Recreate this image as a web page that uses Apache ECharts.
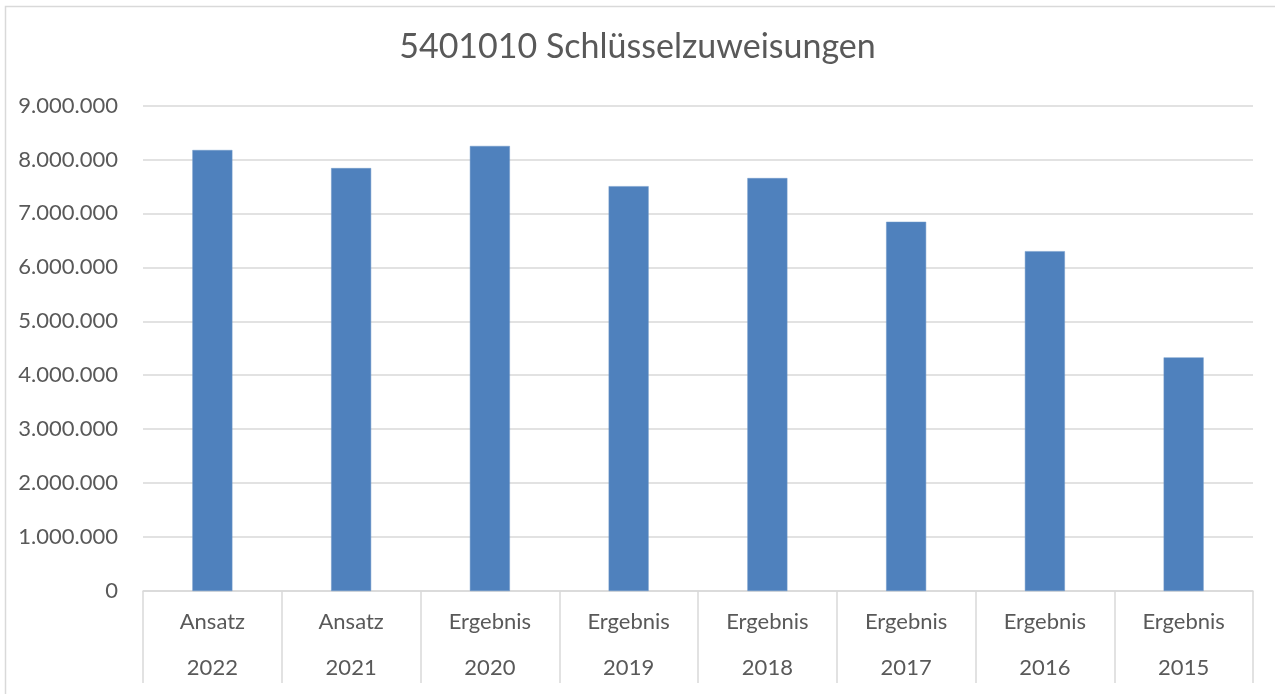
<!DOCTYPE html>
<html>
<head>
<meta charset="utf-8">
<script src="https://cdn.jsdelivr.net/npm/echarts@6/dist/echarts.min.js"></script>
<style>
html,body{margin:0;padding:0;background:#fff;}
#c{width:1275px;height:694px;}
</style>
</head>
<body>
<div id="c"></div>
<script>
const titleText = "5401010 Schlüsselzuweisungen";
const types = ["Ansatz","Ansatz","Ergebnis","Ergebnis","Ergebnis","Ergebnis","Ergebnis","Ergebnis"];
const years = ["2022","2021","2020","2019","2018","2017","2016","2015"];
const values = [8175000, 7840000, 8250000, 7505000, 7655000, 6845000, 6300000, 4330000];
const yMin = 0, yMax = 9000000, yStep = 1000000;

const categories = types.map((t, i) => t + "\n" + years[i]);
const font = "Lato, 'Open Sans', sans-serif";

const chart = echarts.init(document.getElementById('c'));
chart.setOption({
  animation: false,
  backgroundColor: '#ffffff',
  title: {
    text: titleText,
    left: 'center',
    top: 25,
    textStyle: {color: '#595959', fontSize: 34, fontWeight: 'normal', fontFamily: font}
  },
  graphic: [{
    type: 'rect',
    shape: {x: 5.5, y: 6.5, width: 1290, height: 700},
    style: {fill: 'none', stroke: '#d9d9d9', lineWidth: 1.5},
    silent: true
  }],
  grid: {left: 143, right: 22, top: 105.5, bottom: 103, containLabel: false},
  xAxis: {
    type: 'category',
    data: categories,
    boundaryGap: true,
    axisLine: {show: true, lineStyle: {color: '#d9d9d9', width: 1.5}},
    axisTick: {show: true, interval: 0, length: 92, lineStyle: {color: '#d9d9d9', width: 1.5}},
    axisLabel: {
      interval: 0,
      margin: 8,
      color: '#595959',
      fontFamily: font,
      fontSize: 22,
      lineHeight: 46
    }
  },
  yAxis: {
    type: 'value',
    min: yMin,
    max: yMax,
    interval: yStep,
    axisLine: {show: false},
    axisTick: {show: false},
    splitLine: {lineStyle: {color: '#d9d9d9', width: 1.5}},
    axisLabel: {
      margin: 25,
      color: '#595959',
      fontFamily: font,
      fontSize: 22,
      formatter: v => v === 0 ? '0' : v.toString().replace(/\B(?=(\d{3})+(?!\d))/g, '.')
    }
  },
  series: [{
    type: 'bar',
    data: values,
    barWidth: 40,
    itemStyle: {color: '#4f81bd', borderColor: '#6f98c9', borderWidth: 0.5}
  }]
});
</script>
</body>
</html>
